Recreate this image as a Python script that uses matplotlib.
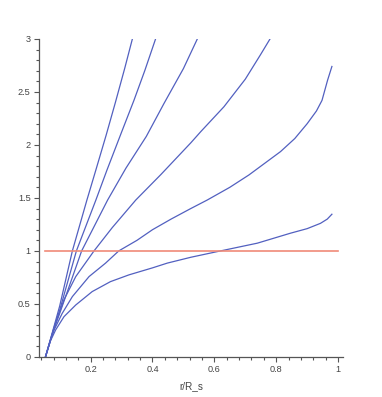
import numpy as np
import matplotlib
matplotlib.use("Agg")
import matplotlib.pyplot as plt
from matplotlib.ticker import MultipleLocator, FuncFormatter

# curves, (r/R_s, value)
c1_x = [0.054, 0.08, 0.1, 0.141, 0.188, 0.217, 0.25, 0.28, 0.31, 0.335]
c1_y = [0.0, 0.27, 0.48, 1.0, 1.48, 1.764, 2.09, 2.4, 2.72, 3.0]

c2_x = [0.054, 0.08, 0.1, 0.154, 0.217, 0.253, 0.3, 0.34, 0.375, 0.41]
c2_y = [0.0, 0.26, 0.44, 1.0, 1.48, 1.764, 2.12, 2.42, 2.7, 3.0]

c3_x = [0.054, 0.08, 0.1, 0.171, 0.255, 0.314, 0.38, 0.437, 0.5, 0.545]
c3_y = [0.0, 0.25, 0.41, 1.0, 1.48, 1.78, 2.08, 2.39, 2.72, 3.0]

c4_x = [0.054, 0.087, 0.114, 0.152, 0.211, 0.27, 0.346, 0.427, 0.524, 0.556,
        0.631, 0.7, 0.749, 0.78]
c4_y = [0.0, 0.32, 0.54, 0.758, 1.0, 1.22, 1.48, 1.72, 2.02, 2.125,
        2.36, 2.62, 2.85, 3.0]

c5_x = [0.054, 0.068, 0.082, 0.108, 0.141, 0.195, 0.248, 0.291, 0.35, 0.4,
        0.46, 0.524, 0.577, 0.65, 0.712, 0.814, 0.86, 0.9, 0.93, 0.948,
        0.966, 0.98]
c5_y = [0.0, 0.14, 0.255, 0.41, 0.569, 0.758, 0.884, 1.0, 1.1, 1.2,
        1.3, 1.4, 1.48, 1.6, 1.717, 1.937, 2.06, 2.2, 2.32, 2.42,
        2.61, 2.74]

c6_x = [0.054, 0.07, 0.087, 0.114, 0.152, 0.205, 0.264, 0.324, 0.4, 0.448,
        0.524, 0.62, 0.739, 0.846, 0.9, 0.943, 0.965, 0.98]
c6_y = [0.0, 0.15, 0.255, 0.38, 0.49, 0.616, 0.71, 0.774, 0.84, 0.885,
        0.94, 1.0, 1.073, 1.167, 1.21, 1.26, 1.3, 1.346]

ref_x = [0.053, 1.0]
ref_y = [1.0, 1.0]

curves = [(c1_x, c1_y), (c2_x, c2_y), (c3_x, c3_y),
          (c4_x, c4_y), (c5_x, c5_y), (c6_x, c6_y)]

plt.rcParams["font.family"] = ["Liberation Sans", "DejaVu Sans"]

fig = plt.figure(figsize=(3.82, 3.97), dpi=100)
ax = fig.add_axes([0.102, 0.101, 0.796, 0.801])

for cx, cy in curves:
    ax.plot(cx, cy, color="#5260c0", lw=0.9)
ax.plot(ref_x, ref_y, color="#f08a78", lw=1.2)

ax.set_xlim(0.033, 1.016)
ax.set_ylim(0, 3)

for side in ("top", "right"):
    ax.spines[side].set_visible(False)
for side in ("left", "bottom"):
    ax.spines[side].set_color("#555555")
    ax.spines[side].set_linewidth(0.9)

ax.xaxis.set_major_locator(MultipleLocator(0.2))
ax.xaxis.set_minor_locator(MultipleLocator(0.04))
ax.yaxis.set_major_locator(MultipleLocator(0.5))
ax.yaxis.set_minor_locator(MultipleLocator(0.1))

fmt = FuncFormatter(lambda v, p: f"{v:g}")
ax.xaxis.set_major_formatter(fmt)
ax.yaxis.set_major_formatter(fmt)

ax.tick_params(which="both", direction="out", color="#555555", width=0.8,
               labelsize=6.6, labelcolor="#444444")
ax.tick_params(which="major", length=3.5, pad=2.5)
ax.tick_params(which="minor", length=2.5)

ax.set_xlabel("r/R_s", fontsize=7.2, color="#444444", labelpad=5)

fig.savefig("out.png", dpi=100)
